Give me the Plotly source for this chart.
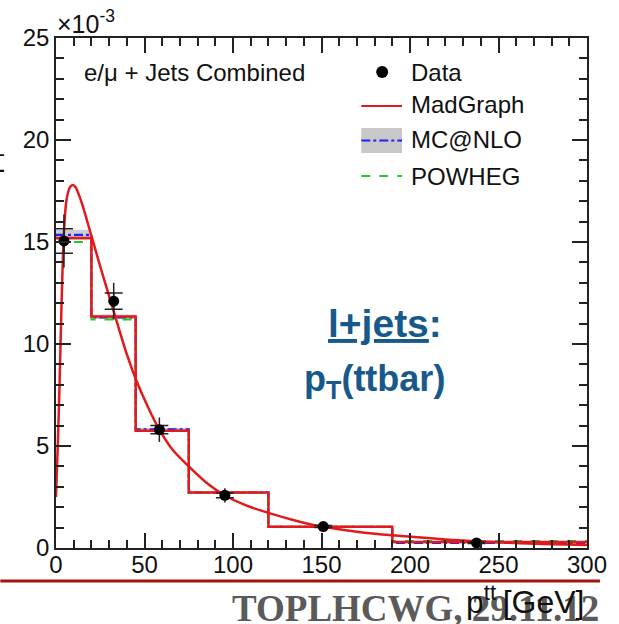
import plotly.graph_objects as go

# ---- data (distributions in units of 1e-3) ----
bin_edges = [0, 20, 45, 75, 120, 190, 300]
madgraph_hist = [15.2, 11.35, 5.75, 2.72, 1.04, 0.30]
mcatnlo_hist = [15.35, 11.30, 5.82, 2.72, 1.04, 0.25]
mcatnlo_lo = [15.10, 11.22, 5.70, 2.66, 1.00, 0.22]
mcatnlo_hi = [15.60, 11.45, 5.90, 2.80, 1.08, 0.30]
powheg_hist = [15.0, 11.2, 5.75, 2.70, 1.04, 0.34]

data_x = [4.5, 32.6, 58.4, 95.4, 151.0, 237.6]
data_y = [15.05, 12.1, 5.8, 2.58, 1.05, 0.25]
data_err_tot = [1.3, 0.9, 0.6, 0.35, 0.15, 0.10]
data_err_stat = [0.6, 0.4, 0.2, 0.12, 0.05, 0.03]

curve_x = [0, 1, 2, 3, 4, 5, 6, 8, 9.5, 11, 13, 15, 20, 25, 32.6, 40, 45,
           52, 58.4, 66, 75, 85, 95, 107, 120, 135, 150, 170, 190, 220, 250, 275, 300]
curve_y = [2.5, 5.0, 8.0, 11.5, 14.5, 16.2, 17.1, 17.7, 17.8, 17.7, 17.3, 16.8,
           15.3, 13.8, 11.6, 9.5, 8.3, 6.9, 5.8, 4.8, 4.0, 3.2, 2.6, 2.1, 1.72,
           1.35, 1.05, 0.8, 0.62, 0.42, 0.28, 0.2, 0.15]

y_ticks = [0, 5, 10, 15, 20, 25]
x_ticks = [0, 50, 100, 150, 200, 250, 300]

W, H = 619, 624
L, R, T, B = 56, 590, 38, 548   # plot-area pixel box


def px(x):
    return (x - L) / (R - L)


def py(y):
    return (B - y) / (B - T)


def steps(vals):
    return vals + [vals[-1]]


FONT = "Liberation Sans, Arial, Helvetica, sans-serif"
RED = "#e31a1c"

fig = go.Figure()

# MC@NLO uncertainty band
fig.add_trace(go.Scatter(x=bin_edges, y=steps(mcatnlo_lo), mode="lines",
                         line=dict(width=0, shape="hv"), hoverinfo="skip",
                         showlegend=False))
fig.add_trace(go.Scatter(x=bin_edges, y=steps(mcatnlo_hi), mode="lines",
                         line=dict(width=0, shape="hv"), fill="tonexty",
                         fillcolor="rgba(190,190,190,0.75)", showlegend=False))
# MC@NLO central
fig.add_trace(go.Scatter(x=bin_edges, y=steps(mcatnlo_hist), mode="lines",
                         line=dict(color="#1f1fff", width=2.2, dash="dashdot", shape="hv"),
                         showlegend=False))
# POWHEG
fig.add_trace(go.Scatter(x=bin_edges, y=steps(powheg_hist), mode="lines",
                         line=dict(color="#22cc22", width=2, dash="dash", shape="hv"),
                         showlegend=False))
# MadGraph histogram
fig.add_trace(go.Scatter(x=bin_edges, y=steps(madgraph_hist), mode="lines",
                         line=dict(color=RED, width=2.5, shape="hv"),
                         showlegend=False))
# MadGraph smooth curve
fig.add_trace(go.Scatter(x=curve_x, y=curve_y, mode="lines",
                         line=dict(color=RED, width=2.5, shape="spline", smoothing=0.8),
                         showlegend=False))
# Data: total uncertainty
fig.add_trace(go.Scatter(x=data_x, y=data_y, mode="markers",
                         marker=dict(color="black", size=1),
                         error_y=dict(type="data", array=data_err_tot, color="#222",
                                      thickness=1.5, width=0),
                         showlegend=False))
# Data: statistical uncertainty and points
fig.add_trace(go.Scatter(x=data_x, y=data_y, mode="markers",
                         marker=dict(color="black", size=11),
                         error_y=dict(type="data", array=data_err_stat, color="#222",
                                      thickness=1.5, width=9),
                         showlegend=False))

annotations = []
shapes = []

# Legend (hand-drawn, ROOT style)
leg_font = dict(family=FONT, size=24, color="#111")
shapes.append(dict(type="circle", xref="paper", yref="paper",
                   x0=px(378), x1=px(390), y0=py(78), y1=py(66),
                   fillcolor="black", line=dict(width=0)))
shapes.append(dict(type="line", xref="paper", yref="paper",
                   x0=px(363), x1=px(404), y0=py(106), y1=py(106),
                   line=dict(color=RED, width=2)))
shapes.append(dict(type="rect", xref="paper", yref="paper",
                   x0=px(363), x1=px(404), y0=py(153), y1=py(128),
                   fillcolor="#c8c8c8", line=dict(width=0)))
shapes.append(dict(type="line", xref="paper", yref="paper",
                   x0=px(363), x1=px(404), y0=py(140.5), y1=py(140.5),
                   line=dict(color="#1f1fff", width=2, dash="dashdot")))
shapes.append(dict(type="line", xref="paper", yref="paper",
                   x0=px(363), x1=px(404), y0=py(176), y1=py(176),
                   line=dict(color="#22cc22", width=2, dash="dash")))
for label, yc in [("Data", 72), ("MadGraph", 105), ("MC@NLO", 140), ("POWHEG", 176)]:
    annotations.append(dict(text=label, xref="paper", yref="paper",
                            x=px(411), y=py(yc), xanchor="left", yanchor="middle",
                            showarrow=False, font=leg_font))

annotations.append(dict(text="e/\u03bc + Jets Combined", xref="paper", yref="paper",
                        x=px(82), y=py(73), xanchor="left", yanchor="middle",
                        showarrow=False, font=dict(family=FONT, size=24, color="#111")))

# exponent of the y axis
annotations.append(dict(text="\u00d710<sup>-3</sup>", xref="paper", yref="paper",
                        x=px(55), y=py(22), xanchor="left", yanchor="middle",
                        showarrow=False, font=dict(family=FONT, size=25, color="#111")))

# y-axis title (mostly outside the page on the left)
annotations.append(dict(text="1/\u03c3 d\u03c3/dp<sub>T</sub>", xref="paper", yref="paper",
                        x=px(10), y=py(148), xanchor="right", yanchor="top",
                        textangle=-90, showarrow=False,
                        font=dict(family=FONT, size=24, color="#111")))

# channel label
BLUE = "#17598a"
annotations.append(dict(text="<b><u>l+jets</u>:</b>", xref="paper", yref="paper",
                        x=px(387), y=py(323), xanchor="center", yanchor="middle",
                        showarrow=False, font=dict(family=FONT, size=39, color=BLUE)))
annotations.append(dict(text="<b>p<sub>T</sub>(ttbar)</b>", xref="paper", yref="paper",
                        x=px(376), y=py(381), xanchor="center", yanchor="middle",
                        showarrow=False, font=dict(family=FONT, size=36, color=BLUE)))

# slide footer
shapes.append(dict(type="line", xref="paper", yref="paper",
                   x0=px(0), x1=px(603), y0=py(581), y1=py(581),
                   line=dict(color="#a3150f", width=3)))
annotations.append(dict(text="<b>TOPLHCWG, 29.11.12</b>", xref="paper", yref="paper",
                        x=px(604), y=py(631), xanchor="right", yanchor="bottom",
                        showarrow=False,
                        font=dict(family="Liberation Serif, Times New Roman, serif",
                                  size=37, color="#5a5a5a")))

# x-axis title (drawn above the footer text)
annotations.append(dict(text="p<sup>tt</sup>\u2009[GeV]", xref="paper", yref="paper",
                        x=px(589), y=py(600), xanchor="right", yanchor="middle",
                        showarrow=False, font=dict(family=FONT, size=32, color="#111")))

axis_common = dict(showline=True, linecolor="#222", linewidth=1.5, mirror="allticks",
                   ticks="inside", ticklen=15, tickwidth=1.5, tickcolor="#222",
                   showgrid=False, zeroline=False,
                   tickfont=dict(family=FONT, size=24, color="#111"))

fig.update_layout(
    width=W, height=H,
    margin=dict(l=L, r=W - R, t=T, b=H - B),
    paper_bgcolor="white", plot_bgcolor="white",
    showlegend=False,
    xaxis=dict(range=[0, 300], tickvals=x_ticks,
               minor=dict(ticks="inside", ticklen=8, dtick=10, tickcolor="#222", tickwidth=1.5),
               ticklabelstandoff=-6, **axis_common),
    yaxis=dict(range=[0, 25], tickvals=y_ticks,
               minor=dict(ticks="inside", ticklen=8, dtick=1, tickcolor="#222", tickwidth=1.5),
               ticklabelstandoff=0, **axis_common),
    annotations=annotations,
    shapes=shapes,
)

fig.write_html("out.html")
